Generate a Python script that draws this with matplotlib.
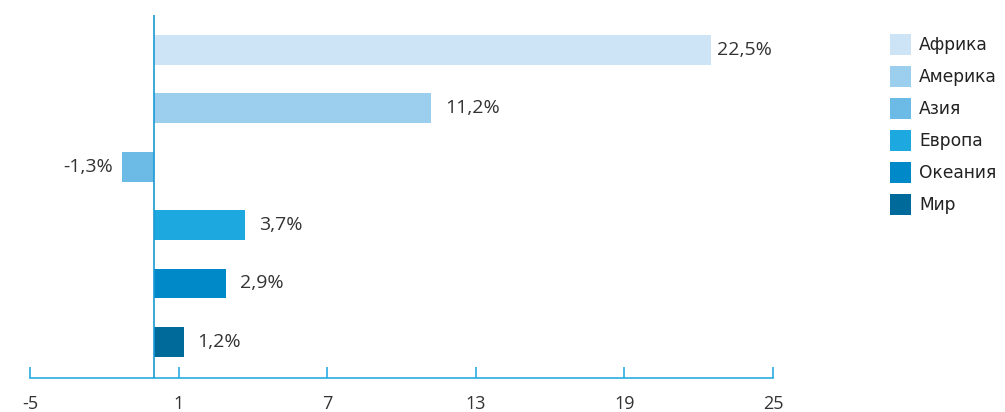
import matplotlib
matplotlib.use("Agg")
import matplotlib.pyplot as plt
from matplotlib.patches import Rectangle

categories = ["Африка", "Америка", "Азия", "Европа", "Океания", "Мир"]
values = [22.5, 11.2, -1.3, 3.7, 2.9, 1.2]
colors = ["#cce4f6", "#9ccfee", "#6cbae6", "#1ea8e0", "#0089c8", "#006a9a"]
xticks = [-5, 1, 7, 13, 19, 25]

plt.rcParams['font.family'] = ['Open Sans', 'DejaVu Sans']

W, H = 1005, 412
fig = plt.figure(figsize=(W / 100, H / 100), dpi=100)
ax = fig.add_axes([30 / W, (H - 378) / H, 743 / W, 363 / H])

pos = list(range(len(categories)))
ax.barh(pos, values, height=0.51, color=colors, zorder=2)
ax.set_xlim(-5, 25)
ax.set_ylim(5.62, -0.6)

for p, v in zip(pos, values):
    txt = f"{v:.1f}%".replace(".", ",")
    if v >= 0:
        off = 4 if v > 20 else 10
        ax.annotate(txt, (v, p), xytext=(off, 0), textcoords="offset points",
                    ha="left", va="center", fontsize=14, color="#333333")
    else:
        ax.annotate(txt, (v, p), xytext=(-6, 0), textcoords="offset points",
                    ha="right", va="center", fontsize=14, color="#333333")

ax.axvline(0, color="#1a9ad6", lw=1.2, zorder=3)

for s in ["top", "right", "left"]:
    ax.spines[s].set_visible(False)
ax.spines["bottom"].set_color("#29abe2")
ax.spines["bottom"].set_linewidth(1.2)
ax.set_yticks([])
ax.set_xticks(xticks)
ax.set_xticklabels([str(t) for t in xticks])
ax.tick_params(axis="x", direction="in", length=8, width=1.2, color="#29abe2",
               labelsize=13, labelcolor="#333333", pad=12)

# legend
for i, (c, col) in enumerate(zip(categories, colors)):
    y_top = 34 + i * 32
    fig.add_artist(Rectangle((890 / W, 1 - (y_top + 21) / H), 21 / W, 21 / H,
                             transform=fig.transFigure, color=col, lw=0))
    fig.text(919 / W, 1 - (y_top + 11) / H, c, fontsize=12.3, color="#222222",
             va="center", ha="left", family=["DejaVu Sans"])

fig.savefig("out.png", dpi=100)
